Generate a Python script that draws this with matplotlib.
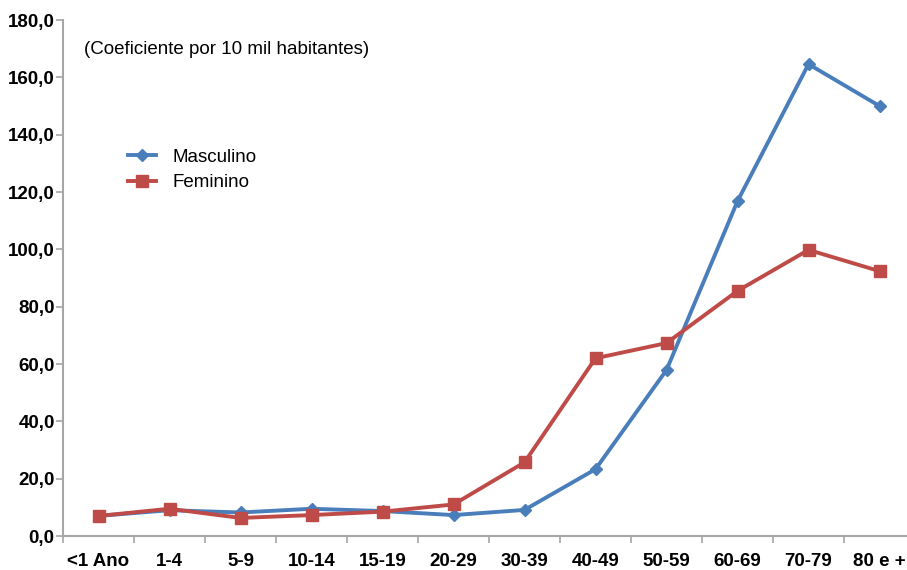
import matplotlib
matplotlib.use("Agg")
import matplotlib.pyplot as plt
from matplotlib.ticker import FuncFormatter, FixedLocator, NullFormatter

categorias = ["<1 Ano", "1-4", "5-9", "10-14", "15-19", "20-29", "30-39",
              "40-49", "50-59", "60-69", "70-79", "80 e +"]
masculino = [7.0, 9.0, 8.2, 9.5, 8.7, 7.3, 9.1, 23.3, 57.9, 116.8, 164.6, 150.0]
feminino = [7.0, 9.5, 6.3, 7.3, 8.5, 11.0, 25.7, 62.0, 67.3, 85.5, 99.8, 92.4]
yticks = [0, 20, 40, 60, 80, 100, 120, 140, 160, 180]

plt.rcParams['font.family'] = ['Liberation Sans', 'DejaVu Sans']

W, H = 907, 570
fig = plt.figure(figsize=(W / 100, H / 100), dpi=100)
left, right, top, bottom = 63, 915, 20, 536
ax = fig.add_axes([left / W, (H - bottom) / H, (right - left) / W, (bottom - top) / H])

blue = "#4a7ebb"
red = "#be4b48"
x = list(range(len(categorias)))
ax.plot(x, masculino, color=blue, lw=2.8, marker="D", ms=6, label="Masculino", zorder=3)
ax.plot(x, feminino, color=red, lw=2.8, marker="s", ms=8.5, label="Feminino", zorder=3)

ax.set_xlim(-0.5, len(categorias) - 0.5)
ax.set_ylim(0, 180)
ax.set_yticks(yticks)
ax.yaxis.set_major_formatter(FuncFormatter(lambda v, p: f"{v:.1f}".replace(".", ",")))

ax.set_xticks(x)
ax.set_xticklabels(categorias)
ax.tick_params(axis="x", which="major", length=0, pad=12)
ax.xaxis.set_minor_locator(FixedLocator([i - 0.5 for i in range(len(categorias) + 1)]))
ax.xaxis.set_minor_formatter(NullFormatter())
ax.tick_params(axis="x", which="minor", length=5, width=1.2, color="#a6a6a6", direction="out")
ax.tick_params(axis="y", length=5, width=1.2, color="#a6a6a6", direction="out", pad=1)

for lab in ax.get_xticklabels() + ax.get_yticklabels():
    lab.set_fontweight("bold")
    lab.set_fontsize(13.5)

for s in ["top", "right"]:
    ax.spines[s].set_visible(False)
for s in ["left", "bottom"]:
    ax.spines[s].set_color("#a6a6a6")
    ax.spines[s].set_linewidth(1.5)

fig.text(84 / W, 1 - 50 / H, "(Coeficiente por 10 mil habitantes)", fontsize=13.5,
         va="center", ha="left")

leg = ax.legend(loc="center left",
                bbox_to_anchor=((128 - left) / (right - left), (bottom - 170) / (bottom - top)),
                frameon=False, fontsize=13.5, handlelength=1.5, handletextpad=0.9, labelspacing=0.45,
                borderaxespad=0, borderpad=0)

fig.savefig("out.png", dpi=100)
